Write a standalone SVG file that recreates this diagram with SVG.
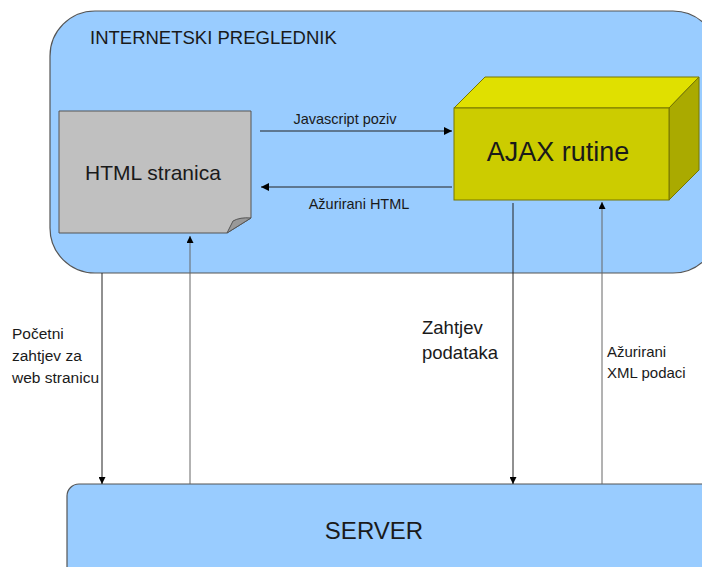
<svg xmlns="http://www.w3.org/2000/svg" width="702" height="567" viewBox="0 0 702 567">
<defs>
<marker id="ah" viewBox="0 0 10 10" refX="10" refY="5" markerWidth="10" markerHeight="8" markerUnits="userSpaceOnUse" orient="auto">
<path d="M0,0 L10,5 L0,10 Z" fill="#000"/>
</marker>
<marker id="av" viewBox="0 0 10 10" refX="10" refY="5" markerWidth="10" markerHeight="7" markerUnits="userSpaceOnUse" orient="auto">
<path d="M0,0 L10,5 L0,10 Z" fill="#000"/>
</marker>
</defs>
<style>
text{font-family:"Liberation Sans",Arial,sans-serif;fill:#1a1a1a}
.cont{fill:#99ccff;stroke:#555;stroke-width:1.2}
.ln{stroke:#222;stroke-width:1;fill:none}
.lg{stroke:#666;stroke-width:1;fill:none}
</style>
<rect width="702" height="567" fill="#fff"/>
<g id="browser">
<rect class="cont" x="50" y="11" width="668" height="262" rx="45" ry="45"/>
<text x="90" y="44" font-size="18.5">INTERNETSKI PREGLEDNIK</text>
</g>
<g id="server">
<rect class="cont" x="67" y="484" width="700" height="120" rx="12" ry="12"/>
<text x="374" y="539" font-size="24" text-anchor="middle">SERVER</text>
</g>
<g id="html">
<path d="M59,111 H251 V218 L227,233 H59 Z" fill="#c0c0c0" stroke="#555" stroke-width="1"/>
<path d="M227,233 L233,221 Q240,217 251,218 Z" fill="#999" stroke="#555" stroke-width="1"/>
<text x="153" y="180" font-size="21" text-anchor="middle">HTML stranica</text>
</g>
<g id="ajax">
<path d="M454,108 L485,77 H699 L669,108 Z" fill="#e0e000" stroke="#777700" stroke-width="1"/>
<path d="M669,108 L699,77 V170 L669,200 Z" fill="#aaaa00" stroke="#777700" stroke-width="1"/>
<rect x="454" y="108" width="215" height="92" fill="#cccc00" stroke="#777700" stroke-width="1"/>
<text x="558" y="161" font-size="27" text-anchor="middle">AJAX rutine</text>
</g>
<g id="connectors">
<line class="ln" x1="260" y1="131" x2="452" y2="131" marker-end="url(#ah)"/>
<text x="345" y="124" font-size="14.5" text-anchor="middle">Javascript poziv</text>
<line class="ln" x1="452" y1="187" x2="261" y2="187" marker-end="url(#ah)"/>
<text x="359" y="209" font-size="14.5" text-anchor="middle">Ažurirani HTML</text>
<line class="ln" x1="102" y1="273" x2="102" y2="484" marker-end="url(#av)"/>
<line class="lg" x1="190" y1="484" x2="190" y2="236" marker-end="url(#av)"/>
<line class="ln" x1="513" y1="203" x2="513" y2="484" marker-end="url(#av)"/>
<line class="lg" x1="602" y1="484" x2="602" y2="202" marker-end="url(#av)"/>
<text x="12" y="339" font-size="15.5">Početni</text>
<text x="12" y="361" font-size="15.5">zahtjev za</text>
<text x="12" y="383" font-size="15.5">web stranicu</text>
<text x="422" y="334" font-size="18.5">Zahtjev</text>
<text x="422" y="359" font-size="18.5">podataka</text>
<text x="607" y="357" font-size="15">Ažurirani</text>
<text x="607" y="378" font-size="15">XML podaci</text>
</g>
</svg>
